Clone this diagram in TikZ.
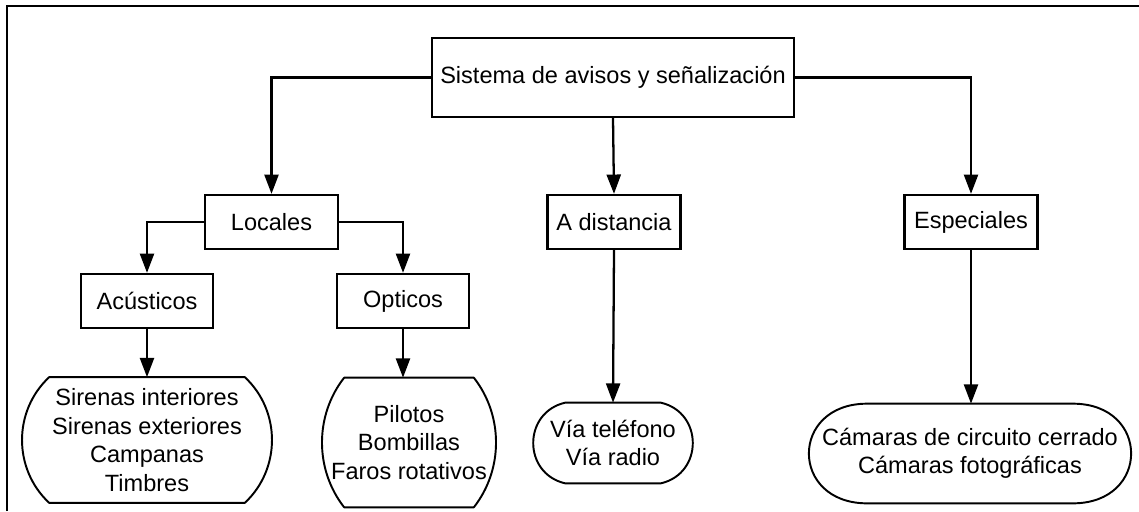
\documentclass[tikz,border=0pt]{standalone}
\usepackage{fontspec}
\setmainfont{Liberation Sans}
\usepackage{tikz}
\usetikzlibrary{arrows.meta,calc}
\tikzset{
  sbox/.style={draw,line width=1.3pt,rectangle,inner sep=0pt,minimum width=2.66cm,minimum height=1.08cm,font=\fontsize{13.4}{16.2}\selectfont},
  tbox/.style={rectangle,inner sep=0pt,align=center,font=\fontsize{13.4}{16.2}\selectfont},
  capline/.style={line width=1.1pt,line join=round},
  link/.style={line width=1.3pt,-{Triangle[length=11pt,width=8pt]}},
  frame/.style={line width=1.2pt}
}
% outline of a leaf: node, inset of the flat sides, side angle, looseness
\newcommand\capsule[4]{%
  \pgfmathsetmacro\capa{-90+#3}\pgfmathsetmacro\capb{90-#3}%
  \pgfmathsetmacro\capc{90+#3}\pgfmathsetmacro\capd{-90-#3}%
  \draw[capline] ($(#1.north west)+(#2,0)$) -- ($(#1.north east)+(-#2,0)$)
    to[out=\capa,in=\capb,looseness=#4] ($(#1.south east)+(-#2,0)$)
    -- ($(#1.south west)+(#2,0)$)
    to[out=\capc,in=\capd,looseness=#4] ($(#1.north west)+(#2,0)$) -- cycle;}
\begin{document}
\begin{tikzpicture}[x=0.02cm,y=0.02cm]
  \useasboundingbox (0,0) rectangle (1139,-511);
  \draw[frame] (7,-511) -- (7,-6) -- (1139,-6);
  % top level
  \node[sbox,minimum width=7.24cm,minimum height=1.58cm] (root) at (613,-77.5) {Sistema de avisos y señalización};
  % second level
  \node[sbox] (loc) at (271.5,-222) {Locales};
  \node[sbox] (dist) at (614,-222) {A distancia};
  \node[sbox] (esp) at (971,-222) {Especiales};
  \node[sbox,minimum width=2.64cm] (acu) at (147,-301) {Acústicos};
  \node[sbox,minimum width=2.64cm] (opt) at (403,-301) {Opticos};
  % leaves
  \node[tbox,minimum width=5.02cm,minimum height=2.5cm] (sir) at (147,-440)
    {Sirenas interiores\\Sirenas exteriores\\Campanas\\Timbres};
  \node[tbox,minimum width=3.46cm,minimum height=2.58cm] (pil) at (409,-442.5)
    {Pilotos\\Bombillas\\Faros rotativos};
  \node[tbox,minimum width=3.18cm,minimum height=1.6cm] (via) at (613,-443)
    {Vía teléfono\\Vía radio};
  \node[tbox,minimum width=6.5cm,minimum height=1.98cm] (cam) at (970,-453.5)
    {Cámaras de circuito cerrado\\Cámaras fotográficas};
  \capsule{sir}{28}{47}{1.01}
  \capsule{pil}{22}{38}{0.95}
  \capsule{via}{32}{77}{1.39}
  \capsule{cam}{60}{90}{2.0}
  % connectors
  \draw[link] (root.west) -| (loc.north);
  \draw[link] (root.south) -- (dist.north);
  \draw[link] (root.east) -| (esp.north);
  \draw[link] (loc.west) -| (acu.north);
  \draw[link] (loc.east) -| (opt.north);
  \draw[link] (acu.south) -- (acu.south |- sir.north);
  \draw[link] (opt.south) -- (opt.south |- pil.north);
  \draw[link] (dist.south) -- (via.north);
  \draw[link] (esp.south) -- (esp.south |- cam.north);
\end{tikzpicture}
\end{document}
